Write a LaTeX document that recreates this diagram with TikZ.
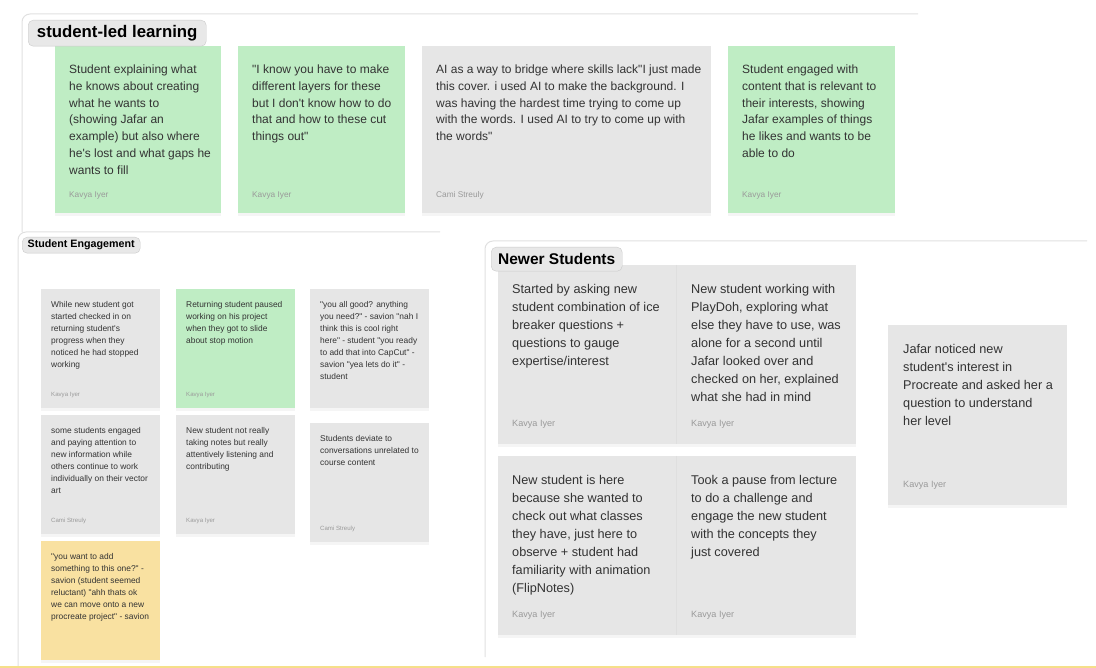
\documentclass[tikz,border=0pt]{standalone}
\usepackage{fontspec}
\setmainfont{Liberation Sans}[Ligatures=TeXReset]
\usetikzlibrary{positioning,shadows}

\definecolor{notegreen}{HTML}{BFEDC4}
\definecolor{notegray}{HTML}{E6E6E6}
\definecolor{noteyellow}{HTML}{F9E1A1}
\definecolor{notetext}{HTML}{333333}
\definecolor{authortext}{HTML}{9A9A9A}
\definecolor{framegray}{HTML}{E0E0E0}
\definecolor{taggray}{HTML}{E8E8E8}
\definecolor{tagline}{HTML}{CACACA}
\definecolor{edgeyellow}{HTML}{F5DF8A}

\begin{document}
\begin{tikzpicture}[x=1pt,y=-1pt,
	card/.style={anchor=north west,inner sep=0pt,
		drop shadow={opacity=0.08,shadow xshift=0pt,shadow yshift=-2.5pt}},
	greencard/.style={card,fill=notegreen},
	graycard/.style={card,fill=notegray},
	yellowcard/.style={card,fill=noteyellow},
	frame/.style={draw=framegray,line width=1pt,rounded corners=8pt},
	tag/.style={anchor=north west,draw=tagline,fill=taggray,rounded corners=5pt,
		inner sep=0pt,text=black},
	note/.style={inner sep=0pt,align=left,text=notetext},
	bignote/.style={note,font=\fontsize{12}{16.7}\selectfont},
	smallnote/.style={note,font=\fontsize{8.4}{12}\selectfont},
	widenote/.style={note,font=\fontsize{12.7}{18}\selectfont},
	author/.style={inner sep=0pt,text=authortext},
	bigauthor/.style={author,font=\fontsize{8.3}{10}\selectfont},
	smallauthor/.style={author,font=\fontsize{6.1}{8}\selectfont},
	wideauthor/.style={author,font=\fontsize{9.1}{11}\selectfont}]

\useasboundingbox (0,0) rectangle (1096,668);

% frames
\draw[frame] (918,14) -- (22,14) -- (22,232);
\draw[frame] (440,232) -- (18,232) -- (18,668);
\draw[frame] (1087,241) -- (485,241) -- (485,657);
\fill[edgeyellow] (0,666) rectangle (1096,668);

% student-led learning
\node[greencard,minimum width=166pt,minimum height=167pt] (sl1) at (55,46) {};
\node[greencard,minimum width=167pt,minimum height=167pt] (sl2) at (238,46) {};
\node[graycard,minimum width=289pt,minimum height=167pt] (sl3) at (422,46) {};
\node[greencard,minimum width=167pt,minimum height=167pt] (sl4) at (728,46) {};

\node[bignote,below right=19pt and 14pt of sl1.north west] (sl1t) {Student explaining what\\he knows about creating\\what he wants to\\(showing Jafar an\\example) but also where\\he's lost and what gaps he\\wants to fill};
\node[bignote,below right=19pt and 14pt of sl2.north west] (sl2t) {"I know you have to make\\different layers for these\\but I don't know how to do\\that and how to these cut\\things out"};
\node[bignote,below right=19pt and 14pt of sl3.north west] (sl3t) {AI as a way to bridge where skills lack"I just made\\this cover. i used AI to make the background. I\\was having the hardest time trying to come up\\with the words. I used AI to try to come up with\\the words"};
\node[bignote,below right=19pt and 14pt of sl4.north west] (sl4t) {Student engaged with\\content that is relevant to\\their interests, showing\\Jafar examples of things\\he likes and wants to be\\able to do};

\node[bigauthor,above right=14pt and 14pt of sl1.south west] (sl1a) {Kavya Iyer};
\node[bigauthor,above right=14pt and 14pt of sl2.south west] (sl2a) {Kavya Iyer};
\node[bigauthor,above right=14pt and 14pt of sl3.south west] (sl3a) {Cami Streuly};
\node[bigauthor,above right=14pt and 14pt of sl4.south west] (sl4a) {Kavya Iyer};

\node[tag,minimum width=178pt,minimum height=26pt,font=\fontsize{16.8}{20}\selectfont\bfseries] (sltag) at (28,20) {student-led learning};

% student engagement
\node[graycard,minimum width=119pt,minimum height=119pt] (se1) at (41,289) {};
\node[greencard,minimum width=119pt,minimum height=119pt] (se2) at (176,289) {};
\node[graycard,minimum width=119pt,minimum height=119pt] (se3) at (310,289) {};
\node[graycard,minimum width=119pt,minimum height=119pt] (se4) at (41,415) {};
\node[graycard,minimum width=119pt,minimum height=119pt] (se5) at (176,415) {};
\node[graycard,minimum width=119pt,minimum height=119pt] (se6) at (310,423) {};
\node[yellowcard,minimum width=119pt,minimum height=119pt] (se7) at (41,541) {};

\node[smallnote,below right=12pt and 10pt of se1.north west] (se1t) {While new student got\\started checked in on\\returning student's\\progress when they\\noticed he had stopped\\working};
\node[smallnote,below right=12pt and 10pt of se2.north west] (se2t) {Returning student paused\\working on his project\\when they got to slide\\about stop motion};
\node[smallnote,below right=12pt and 10pt of se3.north west] (se3t) {"you all good? anything\\you need?" - savion "nah I\\think this is cool right\\here" - student "you ready\\to add that into CapCut" -\\savion "yea lets do it" -\\student};
\node[smallnote,below right=12pt and 10pt of se4.north west] (se4t) {some students engaged\\and paying attention to\\new information while\\others continue to work\\individually on their vector\\art};
\node[smallnote,below right=12pt and 10pt of se5.north west] (se5t) {New student not really\\taking notes but really\\attentively listening and\\contributing};
\node[smallnote,below right=12pt and 10pt of se6.north west] (se6t) {Students deviate to\\conversations unrelated to\\course content};
\node[smallnote,below right=12pt and 10pt of se7.north west] (se7t) {"you want to add\\something to this one?" -\\savion (student seemed\\reluctant) "ahh thats ok\\we can move onto a new\\procreate project" - savion};

\node[smallauthor,above right=10pt and 10pt of se1.south west] (se1a) {Kavya Iyer};
\node[smallauthor,above right=10pt and 10pt of se2.south west] (se2a) {Kavya Iyer};
\node[smallauthor,above right=10pt and 10pt of se4.south west] (se4a) {Cami Streuly};
\node[smallauthor,above right=10pt and 10pt of se5.south west] (se5a) {Kavya Iyer};
\node[smallauthor,above right=10pt and 10pt of se6.south west] (se6a) {Cami Streuly};

\node[tag,minimum width=118pt,minimum height=16pt,font=\fontsize{10.7}{12}\selectfont\bfseries] (setag) at (22,237) {Student Engagement};

% newer students
\node[graycard,minimum width=178pt,minimum height=179pt] (ns1) at (498,265) {};
\node[graycard,minimum width=180pt,minimum height=179pt] (ns2) at (676,265) {};
\node[graycard,minimum width=178pt,minimum height=179pt] (ns3) at (498,456) {};
\node[graycard,minimum width=180pt,minimum height=179pt] (ns4) at (676,456) {};
\node[graycard,minimum width=179pt,minimum height=180pt] (ns5) at (888,325) {};
\draw[draw=tagline!60,line width=0.5pt] (ns1.north east) -- (ns1.south east);
\draw[draw=tagline!60,line width=0.5pt] (ns3.north east) -- (ns3.south east);

\node[widenote,below right=19pt and 14pt of ns1.north west] (ns1t) {Started by asking new\\student combination of ice\\breaker questions +\\questions to gauge\\expertise/interest};
\node[widenote,below right=19pt and 15pt of ns2.north west] (ns2t) {New student working with\\PlayDoh, exploring what\\else they have to use, was\\alone for a second until\\Jafar looked over and\\checked on her, explained\\what she had in mind};
\node[widenote,below right=19pt and 14pt of ns3.north west] (ns3t) {New student is here\\because she wanted to\\check out what classes\\they have, just here to\\observe + student had\\familiarity with animation\\(FlipNotes)};
\node[widenote,below right=19pt and 15pt of ns4.north west] (ns4t) {Took a pause from lecture\\to do a challenge and\\engage the new student\\with the concepts they\\just covered};
\node[widenote,below right=19pt and 15pt of ns5.north west] (ns5t) {Jafar noticed new\\student's interest in\\Procreate and asked her a\\question to understand\\her level};

\node[wideauthor,above right=16pt and 14pt of ns1.south west] (ns1a) {Kavya Iyer};
\node[wideauthor,above right=16pt and 15pt of ns2.south west] (ns2a) {Kavya Iyer};
\node[wideauthor,above right=16pt and 14pt of ns3.south west] (ns3a) {Kavya Iyer};
\node[wideauthor,above right=16pt and 15pt of ns4.south west] (ns4a) {Kavya Iyer};
\node[wideauthor,above right=16pt and 15pt of ns5.south west] (ns5a) {Kavya Iyer};

\node[tag,minimum width=131pt,minimum height=24pt,font=\fontsize{15.5}{18}\selectfont\bfseries] (nstag) at (491,247) {Newer Students};
\end{tikzpicture}
\end{document}
